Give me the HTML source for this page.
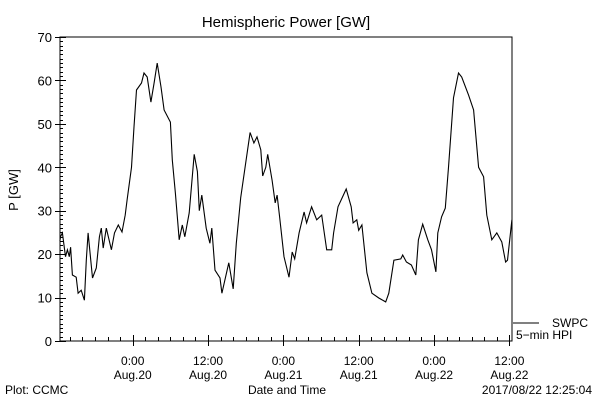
<!DOCTYPE html>
<html><head><meta charset="utf-8"><style>
body{margin:0;background:#fff}
svg{display:block;font-family:"Liberation Sans",sans-serif}
</style></head><body>
<svg width="600" height="400" viewBox="0 0 600 400" id="chart">
<rect width="600" height="400" fill="#fff"/>
<text x="286" y="27" font-size="15" text-anchor="middle">Hemispheric Power [GW]</text>
<text x="18" y="190" font-size="13" text-anchor="middle" transform="rotate(-90 18 190)">P [GW]</text>
<text x="5" y="394" font-size="12">Plot: CCMC</text>
<text x="287" y="394" font-size="12" text-anchor="middle">Date and Time</text>
<text x="592" y="394" font-size="12" text-anchor="end">2017/08/22 12:25:04</text>
<line x1="513" y1="323" x2="539" y2="323" stroke="#000"/>
<text x="552" y="327" font-size="12">SWPC</text>
<text x="516" y="339" font-size="12">5−min HPI</text>
<g id="axes"></g>
<g id="series"></g>
</svg>
<script>
const hours=[-11.6,-11.5,-11.2,-10.7,-10.4,-10.1,-9.9,-9.6,-9.0,-8.7,-8.2,-7.7,-7.4,-7.1,-6.4,-5.8,-5.3,-5.0,-4.7,-4.2,-3.4,-2.9,-2.3,-1.7,-1.2,-0.9,-0.2,0.2,0.6,1.4,1.8,2.3,2.9,3.4,3.9,4.5,5.0,6.0,6.3,6.8,7.4,7.9,8.3,9.0,9.8,10.3,10.6,11.0,11.7,12.3,12.6,13.1,13.9,14.2,15.3,16.0,16.5,17.2,18.0,18.7,19.3,19.8,20.4,20.7,21.2,21.5,22.2,22.7,23.0,23.4,24.1,24.9,25.4,25.8,26.5,27.3,27.7,28.5,29.3,30.1,30.9,31.7,32.0,32.7,34.0,34.8,35.1,35.7,36.0,36.5,37.3,38.1,39.2,40.3,40.8,41.6,42.7,43.0,43.6,44.4,45.1,45.5,46.2,47.0,47.6,48.3,48.6,49.2,49.8,50.3,51.1,51.9,52.4,53.5,54.3,55.1,55.9,56.4,57.2,58.0,58.8,59.4,59.7,60.4];
const power=[23,24,24.9,19.4,21,19.4,21.6,15.2,14.7,11,11.7,9.4,18.6,24.9,14.5,16.8,24,26,21.4,26,21,24.9,26.7,25.1,29,32.5,40,49.3,57.8,59.4,61.7,60.8,55,59.4,64,58.5,53.2,50.4,41.7,34,23.3,26.7,24,29.5,43,39,30,33.6,26,22.5,26,16.3,14.5,11,18,12,22.5,33,41,48,45.6,47,44,38,40,43,37,31.8,33.6,28.6,19.4,14.7,20.5,18.9,24.9,29.7,27.2,30.9,27.9,29,21,21,24.9,30.9,35,30.9,27.2,27.9,25.5,26.7,15.7,11,9.9,9,11,18.6,18.9,19.8,18.2,17.5,15.2,23.3,26.9,23.3,21,15.9,24.9,28.6,30.6,40,56,61.7,60.8,56.6,53.2,40,37.8,29,23.3,24.9,22.8,18.2,18.6,27.9];
const yTickValues=[0,10,20,30,40,50,60,70];
const xTickHours=[0,12,24,36,48,60];
const xTickTimes=["0:00","12:00","0:00","12:00","0:00","12:00"];
const xTickDates=["Aug.20","Aug.20","Aug.21","Aug.21","Aug.22","Aug.22"];
const X0=60,X1=512,Y0=341,Y1=37,HMIN=-11.583,HMAX=60.417,VMAX=70;
const NS="http://www.w3.org/2000/svg";
function sx(h){return X0+(h-HMIN)/(HMAX-HMIN)*(X1-X0);}
function sy(v){return Y0-v/VMAX*(Y0-Y1);}
function mk(tag,attrs,parent){const e=document.createElementNS(NS,tag);for(const k in attrs)e.setAttribute(k,attrs[k]);parent.appendChild(e);return e;}
const ax=document.getElementById('axes');
const frame=mk('rect',{x:X0,y:Y1,width:X1-X0,height:Y0-Y1,fill:'none',stroke:'#000','stroke-width':1},ax);


for(let v=0;v<=VMAX;v++){
  const y=Math.round(sy(v))+0.5;
  const major=v%10===0;
  const t=mk('line',{x1:major?X0-5:X0,y1:y,x2:X0+(major?6:3),y2:y,stroke:'#000'},ax);
  
  
}
yTickValues.forEach(v=>{
  const t=mk('text',{x:X0-8,y:sy(v)+5,'font-size':13,'text-anchor':'end'},ax);
  t.textContent=v;
  
  
});
for(let h=-10;h<=60;h+=2){
  const x=Math.round(sx(h))+0.5;
  const major=h%12===0;
  const t=mk('line',{x1:x,y1:Y0-(major?6:4),x2:x,y2:Y0+(major?5:0),stroke:'#000'},ax);
  
  
}
xTickHours.forEach((h,i)=>{
  const a=mk('text',{x:sx(h),y:365,'font-size':12,'text-anchor':'middle'},ax);
  a.textContent=xTickTimes[i];
  
  
  const b=mk('text',{x:sx(h),y:379,'font-size':12,'text-anchor':'middle'},ax);
  b.textContent=xTickDates[i];
  
  
});
const pts=hours.map((h,i)=>sx(h).toFixed(1)+','+sy(power[i]).toFixed(1)).join(' ');
const line=mk('polyline',{points:pts,fill:'none',stroke:'#000','stroke-width':1.1},document.getElementById('series'));


</script>
</body></html>
